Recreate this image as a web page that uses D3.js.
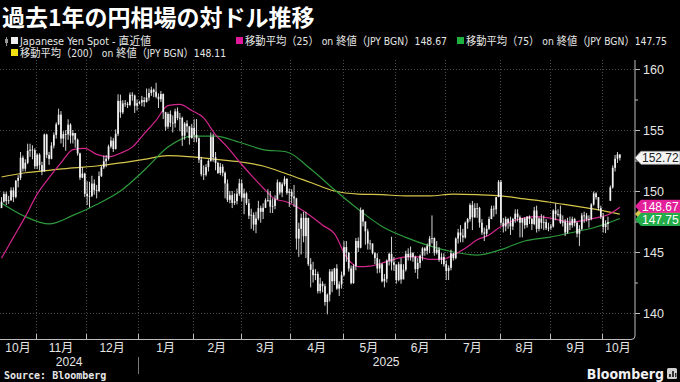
<!DOCTYPE html>
<html><head><meta charset="utf-8">
<script src="https://cdn.jsdelivr.net/npm/d3@7"></script>
<style>
html,body{margin:0;padding:0;background:#000;}
svg{display:block;}
</style></head><body>
<svg id="c" width="680" height="382"></svg>
<script>
// ---------------- DATA (USD/JPY daily candles, trading days from 2024-10-11) ----------------
const startDate = [2024, 9, 11];
const open = [
 148.60,149.13,149.75,149.18,149.24,150.05,149.52,150.84,151.08,152.73,151.83,152.31,153.30,153.39,153.35,
 152.03,152.98,152.12,151.60,154.63,152.96,152.64,153.72,154.59,155.47,156.26,154.30,154.67,154.64,155.44,154.54,154.75,154.20,153.07,151.10,151.43,
 149.77,149.58,149.60,150.61,150.06,150.00,151.22,151.94,152.44,152.64,153.65,154.13,153.45,154.69,157.39,156.45,157.18,157.15,157.06,157.89,157.83,156.99,
 157.20,157.25,157.45,157.30,157.66,158.03,158.30,158.13,157.73,157.52,157.95,156.46,155.28,156.31,155.60,155.55,156.53,155.98,156.00,154.53,155.53,155.30,154.35,
 155.18,154.60,154.32,152.57,151.38,151.35,151.96,152.47,154.42,152.77,152.30,151.48,151.99,151.49,150.62,149.28,149.66,149.03,149.17,149.78,
 150.63,149.45,149.80,149.00,147.98,148.05,147.25,147.75,148.60,148.30,148.63,149.25,149.25,148.72,148.78,149.32,150.71,149.88,150.55,151.00,149.85,
 149.95,149.55,149.40,146.10,146.90,147.80,146.30,147.80,144.00,143.55,143.10,143.20,141.80,142.40,142.20,140.90,141.50,143.40,142.60,143.65,142.00,142.35,
 143.10,145.40,144.95,143.65,142.45,143.85,145.90,145.35,148.45,147.50,146.70,145.70,145.70,144.90,144.50,143.65,144.00,142.60,142.80,144.30,144.85,144.15,
 143.95,142.70,144.00,142.75,143.55,144.85,144.60,144.90,144.60,143.60,144.10,144.70,145.30,145.10,145.50,146.10,146.15,144.95,145.20,144.40,144.60,
 144.00,143.45,143.70,144.90,144.50,146.10,146.60,146.35,146.20,147.40,147.70,148.85,147.85,148.60,148.60,147.40,146.60,146.50,146.90,147.70,148.55,148.50,149.50,
 150.75,147.40,147.10,147.70,147.40,147.10,147.70,148.15,147.85,147.40,147.75,147.20,147.90,147.70,147.30,148.40,146.90,147.75,147.40,147.45,146.95,
 147.00,147.10,148.40,148.10,148.10,147.40,147.50,146.60,147.40,147.20,147.70,147.40,146.50,146.90,148.00,148.00,147.70,147.70,148.90,149.80,149.50,148.60,
 147.90,147.05,147.30,149.20,150.30,151.90,152.65,153.00
];
const high = [
 149.50,149.95,149.95,149.60,150.30,150.30,150.90,151.30,153.20,152.90,152.60,153.88,153.88,153.75,153.50,
 153.08,153.10,152.40,154.71,154.70,153.20,154.00,154.80,155.63,156.75,156.55,154.90,155.00,155.88,155.55,155.00,154.75,154.30,153.15,151.95,151.50,
 150.80,150.75,151.25,150.95,150.50,151.60,152.05,152.90,152.95,153.80,154.45,154.35,155.05,157.93,157.90,157.45,157.45,157.30,158.08,158.10,157.90,157.50,
 157.40,157.80,157.70,158.40,158.40,158.55,158.40,158.87,158.00,158.20,158.00,156.50,156.45,156.60,156.20,156.75,156.85,156.40,156.10,155.65,155.80,155.30,155.50,
 155.88,155.90,154.40,152.80,152.10,152.20,152.60,154.80,154.70,153.20,152.40,152.30,152.20,151.60,150.95,150.00,150.00,149.80,150.20,151.00,
 150.95,150.20,149.90,149.35,148.55,148.25,148.30,149.20,148.80,149.00,149.40,150.15,150.00,149.40,149.65,150.95,150.75,150.70,151.21,151.05,150.20,
 150.15,150.50,149.45,147.40,148.15,148.30,148.30,147.80,144.50,144.20,143.60,143.40,142.90,142.60,142.40,141.60,143.60,143.60,143.70,144.00,142.60,143.40,
 145.90,145.90,145.00,143.90,144.00,146.15,146.20,148.65,148.50,147.50,146.90,146.00,145.70,145.00,144.90,144.40,144.10,143.20,144.40,144.95,146.25,144.60,
 144.00,144.20,144.50,144.00,145.10,145.30,145.45,145.00,144.70,144.50,144.80,145.40,145.40,145.70,146.30,148.00,146.20,145.90,145.40,144.90,144.90,
 144.30,143.90,145.20,144.90,146.20,146.90,147.20,146.90,147.50,147.80,149.00,149.19,149.00,149.00,148.70,147.70,147.00,147.20,147.90,148.80,148.80,149.50,150.90,
 150.90,147.80,147.90,147.80,147.90,147.80,148.50,148.50,148.00,147.80,147.85,147.95,148.00,147.80,148.70,148.80,147.85,148.10,148.00,147.70,147.40,
 147.30,148.50,149.00,148.50,148.80,148.00,147.70,147.80,147.90,147.90,147.80,147.50,147.20,148.20,148.30,148.20,148.00,149.00,149.96,149.90,149.50,148.80,
 148.20,147.60,147.90,150.45,152.10,152.95,153.20,153.00
];
const low = [
 148.60,149.05,148.85,148.95,149.20,149.10,149.40,150.30,150.90,151.60,151.60,152.20,152.80,152.60,151.80,
 151.80,151.70,151.30,151.60,152.70,152.15,152.60,153.50,154.30,155.40,153.90,153.60,153.30,154.20,153.90,153.90,153.55,152.90,150.90,151.05,149.50,
 148.85,148.65,149.50,149.70,149.40,149.90,151.15,151.80,151.95,152.50,153.50,153.20,153.40,154.50,156.00,156.30,156.90,156.80,156.95,157.40,156.40,156.60,
 157.10,156.95,156.90,157.25,157.40,157.80,157.70,157.60,156.80,157.30,155.90,154.95,155.10,155.25,154.80,155.20,155.80,154.90,153.70,154.20,154.80,153.80,154.30,
 154.00,154.00,152.30,151.20,150.90,151.20,151.60,152.40,152.40,151.70,151.40,151.30,151.20,149.40,149.10,149.00,148.60,148.85,148.90,149.60,
 149.15,148.10,148.85,147.70,146.90,146.75,146.54,147.60,147.40,147.70,148.60,149.10,148.20,148.20,148.50,149.30,149.70,149.50,150.40,149.70,148.70,
 149.00,148.70,145.20,144.60,144.80,145.80,144.50,143.85,142.10,142.50,142.70,141.60,141.60,141.70,140.60,139.89,140.95,141.70,142.30,141.90,141.40,142.00,
 143.00,144.20,143.40,142.35,142.40,143.50,145.00,145.30,147.10,145.60,145.20,145.20,144.80,144.00,143.25,143.30,142.50,142.10,142.50,143.90,143.50,143.45,
 142.40,142.60,142.40,142.80,143.40,144.30,144.30,144.20,143.30,142.80,143.70,144.30,144.70,144.80,144.90,145.70,144.70,144.80,144.20,144.00,143.80,
 142.70,142.70,143.50,144.30,144.40,145.70,145.80,145.80,146.10,146.90,147.50,146.80,147.80,147.80,147.00,146.40,145.90,146.30,146.80,147.70,147.90,148.10,149.50,
 147.20,146.60,146.70,146.90,146.40,146.80,147.40,147.50,146.20,146.20,146.90,147.00,147.30,146.80,147.20,146.60,146.70,146.90,146.80,146.80,146.70,
 146.80,147.00,147.60,147.90,147.30,147.10,146.30,146.50,146.80,147.00,147.10,146.20,145.50,146.80,147.40,147.50,147.00,147.60,148.80,149.30,148.40,147.70,
 146.60,146.55,146.80,149.20,150.20,151.60,152.30,152.50
];
const close = [
 149.13,149.75,149.18,149.24,150.05,149.52,150.84,151.08,152.73,151.83,152.31,153.30,153.39,153.35,152.03,
 152.98,152.12,151.60,154.63,152.96,152.64,153.72,154.59,155.47,156.26,154.30,154.67,154.64,155.44,154.54,154.75,154.20,153.07,151.10,151.43,149.77,
 149.58,149.60,150.61,150.06,150.00,151.22,151.94,152.44,152.64,153.65,154.13,153.45,154.69,157.39,156.45,157.18,157.15,157.06,157.89,157.83,156.99,157.20,
 157.25,157.45,157.30,157.66,158.03,158.30,158.13,157.73,157.52,157.95,156.46,155.28,156.31,155.60,155.55,156.53,155.98,156.00,154.53,155.53,155.30,154.35,155.18,
 154.60,154.32,152.57,151.38,151.35,151.96,152.47,154.42,152.77,152.30,151.48,151.99,151.49,150.62,149.28,149.66,149.03,149.17,149.78,150.63,
 149.45,149.80,149.00,147.98,148.05,147.25,147.75,148.60,148.30,148.63,149.25,149.25,148.72,148.78,149.32,150.71,149.88,150.55,151.00,149.85,149.95,
 149.55,149.40,146.10,146.90,147.80,146.30,147.80,144.00,143.55,143.10,143.20,141.80,142.40,142.20,140.90,141.50,143.40,142.60,143.65,142.00,142.35,143.10,
 145.40,144.95,143.65,142.45,143.85,145.90,145.35,148.45,147.50,146.70,145.70,145.70,144.90,144.50,143.65,144.00,142.60,142.80,144.30,144.85,144.15,143.95,
 142.70,144.00,142.75,143.55,144.85,144.60,144.90,144.60,143.60,144.10,144.70,145.30,145.10,145.50,146.10,146.15,144.95,145.20,144.40,144.60,144.00,
 143.45,143.70,144.90,144.50,146.10,146.60,146.35,146.20,147.40,147.70,148.85,147.85,148.60,148.60,147.40,146.60,146.50,146.90,147.70,148.55,148.50,149.50,150.75,
 147.40,147.10,147.70,147.40,147.10,147.70,148.15,147.85,147.40,147.75,147.20,147.90,147.70,147.30,148.40,146.90,147.75,147.40,147.45,146.95,147.00,
 147.10,148.40,148.10,148.10,147.40,147.50,146.60,147.40,147.20,147.70,147.40,146.50,146.90,148.00,148.00,147.70,147.70,148.90,149.80,149.50,148.60,147.90,
 147.05,147.30,147.45,150.30,151.90,152.65,153.00,152.72
];
// moving averages: 25-day every 5 trading days, 75/200-day every 10
const ma25Step = 5;
const ma25 = [144.5,146.2,147.9,149.75,151.1,152.3,153.4,153.5,153.0,152.8,153.1,153.6,154.7,155.8,157.0,157.1,156.6,156.0,154.6,153.6,
              152.4,151.3,150.25,149.35,149.1,148.6,147.95,147.2,146.5,144.6,143.8,143.85,144.1,144.4,144.6,144.6,144.4,144.4,144.75,145.3,
              146.0,146.4,147.1,147.55,147.8,147.9,147.8,147.6,147.45,147.6,147.8,148.05,148.67];
const maStep = 10;
const ma75  = [149.0,147.9,147.3,148.0,148.9,150.0,151.7,153.6,154.5,154.5,154.0,153.4,153.2,151.8,150.1,148.5,147.1,146.2,145.5,145.0,144.75,145.2,145.9,146.2,146.6,147.05,147.75];
const ma200 = [151.15,151.5,151.7,151.9,152.05,152.3,152.6,152.9,152.8,152.6,152.4,152.05,151.4,150.7,150.0,149.75,149.7,149.6,149.6,149.75,149.7,149.6,149.35,149.1,148.8,148.5,148.11];
const yTicks = [140,145,150,155,160];
const yMinorTicks = [142.5,147.5,152.5,157.5];
const monthLabels = ["10月","11月","12月","1月","2月","3月","4月","5月","6月","7月","8月","9月","10月"];
const yearLabels = ["2024","2025"];
const lastSpot = 152.72, last25 = 148.67, last75 = 147.75, last200 = 148.11;
const titleText = "過去1年の円相場の対ドル推移";
const legendSpot = "Japanese Yen Spot - 直近値";
const legend25 = "移動平均（25） on 終値（JPY BGN）148.67";
const legend75 = "移動平均（75） on 終値（JPY BGN）147.75";
const legend200 = "移動平均（200） on 終値（JPY BGN）148.11";

// ---------------- CHART ----------------
const C = {pink:"#d1268c", green:"#2d9a3c", yellow:"#d6c64c", tagPink:"#e3209a", tagGreen:"#22ad4a",
           grid:"#4a4a4a", axis:"#bdbdbd", text:"#e6e6e6"};
const sansN = "'Liberation Sans Narrow','DejaVu Sans Condensed','Noto Sans CJK JP',sans-serif";
const sans = "'Liberation Sans','Noto Sans CJK JP',sans-serif";
const svg = d3.select("#c");
svg.append("rect").attr("width",680).attr("height",382).attr("fill","#000");

const N = close.length;
const pl = {l:0, r:634, t:60, b:339};
const x = d3.scaleLinear().domain([-0.64, 265.95]).range([pl.l, pl.r]);
const y = d3.scaleLinear().domain([137.87, 160.74]).range([pl.b, pl.t]);
const step = x(1) - x(0);

// trading days
const dates = [];
{ let d = new Date(startDate[0], startDate[1], startDate[2]);
  while (dates.length < N) { const w = d.getDay(); if (w > 0 && w < 6) dates.push(new Date(d)); d.setDate(d.getDate()+1); } }
const bounds = [];
for (let i = 1; i < N; i++) if (dates[i].getMonth() !== dates[i-1].getMonth()) bounds.push(i);
const bx = bounds.map(i => x(i) - step/2);

// gridlines
const g = svg.append("g");
g.selectAll("line.hg").data(yTicks).join("line")
  .attr("x1", pl.l).attr("x2", pl.r).attr("y1", d => Math.round(y(d))+0.5).attr("y2", d => Math.round(y(d))+0.5)
  .attr("stroke", C.grid).attr("stroke-dasharray","1,2");
g.selectAll("line.vg").data(bx).join("line")
  .attr("x1", d => Math.round(d)+0.5).attr("x2", d => Math.round(d)+0.5).attr("y1", pl.t).attr("y2", pl.b)
  .attr("stroke", C.grid).attr("stroke-dasharray","1,2");

// clip
svg.append("clipPath").attr("id","clip").append("rect")
  .attr("x", pl.l).attr("y", pl.t).attr("width", pl.r-pl.l).attr("height", pl.b-pl.t);
const pg = svg.append("g").attr("clip-path","url(#clip)");

// MA lines
const lineFor = st => d3.line().x((d,k) => x(k*st)).y(d => y(d)).curve(d3.curveMonotoneX);
[[ma200,maStep,C.yellow],[ma75,maStep,C.green],[ma25,ma25Step,C.pink]].forEach(([s,st,c]) => {
  pg.append("path").attr("d", lineFor(st)(s)).attr("fill","none").attr("stroke", c).attr("stroke-width",1.2);
});

// candles
const idx = d3.range(N);
pg.selectAll("line.wick").data(idx).join("line")
  .attr("x1", i => x(i)).attr("x2", i => x(i)).attr("y1", i => y(high[i])).attr("y2", i => y(low[i]))
  .attr("stroke","#ececec").attr("stroke-width",0.9);
pg.selectAll("rect.body").data(idx).join("rect")
  .attr("x", i => x(i)-0.85).attr("width",1.7)
  .attr("y", i => y(Math.max(open[i],close[i])))
  .attr("height", i => Math.max(0.8, Math.abs(y(open[i])-y(close[i]))))
  .attr("fill","#f2f2f2");

// axes
svg.append("path").attr("d", `M${pl.l},${pl.b+0.5} H${pl.r-3} Q${pl.r+1},${pl.b+0.5} ${pl.r+1},${pl.b-3} V${pl.t}`)
  .attr("fill","none").attr("stroke", C.axis).attr("stroke-width",1);
svg.selectAll("line.xt").data(bx).join("line")
  .attr("x1", d => Math.round(d)+0.5).attr("x2", d => Math.round(d)+0.5).attr("y1", pl.b-5).attr("y2", pl.b)
  .attr("stroke", C.axis);
const ya = svg.append("g").attr("transform", `translate(${pl.r+1},0)`)
  .call(d3.axisRight(y).tickValues(yTicks).tickSize(5).tickPadding(3).tickFormat(d3.format("d")));
ya.select(".domain").remove();
ya.selectAll("line").attr("stroke", C.axis);
ya.selectAll("text").attr("fill", C.text).style("font-family", sans).style("font-size","12.5px");
const ym = svg.append("g").attr("transform", `translate(${pl.r+1},0)`)
  .call(d3.axisRight(y).tickValues(yMinorTicks).tickSize(3).tickFormat(""));
ym.select(".domain").remove();
ym.selectAll("line").attr("stroke", C.axis);

// month labels (centred in the visible part of each month)
const edges = [pl.l, ...bx, pl.r];
svg.selectAll("text.ml").data(monthLabels).join("text")
  .attr("x", (d,k) => (edges[k]+edges[k+1])/2).attr("y", 352)
  .attr("text-anchor","middle").attr("fill", C.text)
  .style("font-family", sans).style("font-size","12px").text(d => d);
// year labels
const janIdx = monthLabels.indexOf("1月");
const yEdges = [[pl.l, edges[janIdx]], [edges[janIdx], pl.r]];
svg.selectAll("text.yl").data(yearLabels).join("text")
  .attr("x", (d,k) => (yEdges[k][0]+yEdges[k][1])/2).attr("y", 366)
  .attr("text-anchor","middle").attr("fill", C.text)
  .style("font-family", sans).style("font-size","12px").text(d => d);
svg.append("line").attr("x1", Math.round(edges[janIdx])+0.5).attr("x2", Math.round(edges[janIdx])+0.5)
  .attr("y1", 357).attr("y2", 374).attr("stroke","#777");

// value tags (nudged apart so they do not collide)
function tag(yy, fill, tfill, txt, stroke) {
  const x0 = pl.r+1, x1 = 680;
  svg.append("path").attr("d", `M${x0},${yy} L${x0+6},${yy-6.5} H${x1} V${yy+6.5} H${x0+6} Z`)
    .attr("fill", fill).attr("stroke", stroke || "none").attr("stroke-width", 0.8);
  if (txt) svg.append("text").attr("x", x0+7).attr("y", yy+4.3).attr("fill", tfill)
    .style("font-family", sans).style("font-size","12px").text(txt);
}
const y25 = y(last25), y75 = y(last75);
const gap = 13.2, mid = (y25 + y75) / 2;
const t25 = Math.min(y25, mid - gap/2), t75 = Math.max(y75, mid + gap/2);
tag(y(last200), C.yellow, "#000", null);
tag(t75, C.tagGreen, "#fff", d3.format(".2f")(last75));
tag(t25, C.tagPink, "#fff", d3.format(".2f")(last25));
tag(y(lastSpot), "#f4f4f4", "#222", d3.format(".2f")(lastSpot), "#999");

// title
svg.append("text").attr("x", 2).attr("y", 26).attr("fill","#fff")
  .style("font-family","'Noto Sans CJK JP',sans-serif").style("font-size","23px").style("font-weight","700")
  .text(titleText);

// legend
const lg = svg.append("g").style("font-family", sansN).style("font-size","11px");
function legItem(xs, yb, color, label, w) {
  lg.append("rect").attr("x", xs).attr("y", yb-8).attr("width",7).attr("height",7).attr("fill", color);
  lg.append("text").attr("x", xs+9).attr("y", yb).attr("fill", C.text)
    .attr("textLength", w).attr("lengthAdjust","spacingAndGlyphs").text(label);
}
// tiny candle icon
lg.append("line").attr("x1",6.5).attr("x2",6.5).attr("y1",37).attr("y2",46).attr("stroke","#999");
lg.append("rect").attr("x",5).attr("y",39).attr("width",3).attr("height",4).attr("fill","#999");
legItem(11, 45, "#f0f0f0", legendSpot, 131);
legItem(236, 45, "#e0189a", legend25, 202);
legItem(457, 45, "#20b040", legend75, 201);
legItem(11, 57, "#f0e010", legend200, 206);

// footer
svg.append("text").attr("x", 4).attr("y", 379).attr("fill","#e6e6e6")
  .style("font-family","'DejaVu Sans Mono',monospace").style("font-size","10px").style("font-weight","700")
  .text("Source: Bloomberg");
svg.append("text").attr("x", 664).attr("y", 379).attr("text-anchor","end").attr("fill","#f0f0f0")
  .style("font-family", sansN).style("font-size","14px").style("font-weight","700").text("Bloomberg");
svg.append("rect").attr("x",667).attr("y",368).attr("width",10).attr("height",11).attr("rx",1.5).attr("fill","#cfcfcf");
[[669,374,2,3],[672,371,2,6],[675,373,1.5,4]].forEach(([a,b,w,h]) =>
  svg.append("rect").attr("x",a).attr("y",b).attr("width",w).attr("height",h).attr("fill","#333"));

// sanity check of array lengths
if (![open,high,low].every(a => a.length === N) || ma25.length !== 53)
  svg.append("text").attr("x",300).attr("y",200).attr("fill","red").text(`len ${open.length} ${high.length} ${low.length} ${N} ${ma25.length}`);
</script>
</body></html>
